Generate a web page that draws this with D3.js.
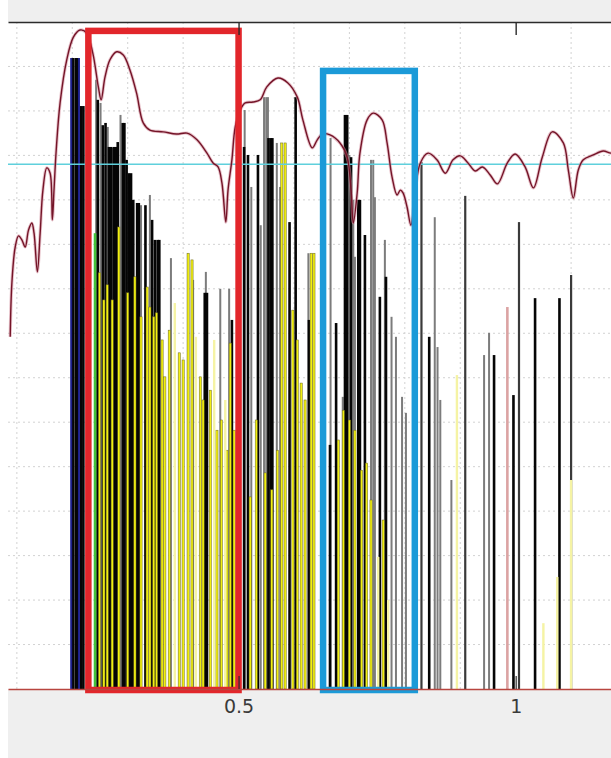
<!DOCTYPE html>
<html>
<head>
<meta charset="utf-8">
<script src="https://cdn.jsdelivr.net/npm/d3@7"></script>
<style>
  html, body { margin: 0; padding: 0; background: #ffffff; }
  svg { display: block; }
</style>
</head>
<body>
<div id="chart"></div>
<script>
// ---- spectral lines: [frequency, magnitude] ----
const navyLines = [[0.198, 14.19], [0.212, 14.19]];
const greenLines = [[0.241, 10.25]];
const pinkLines = [[0.985, 8.59]];

const grayLines = [
  [0.243, 13.70], [0.251, 13.18], [0.264, 12.64], [0.273, 12.17], [0.287, 12.91],
  [0.324, 10.88], [0.340, 11.11], [0.378, 9.69], [0.418, 9.20], [0.441, 9.38],
  [0.467, 9.00], [0.483, 9.00], [0.511, 13.02], [0.523, 11.29], [0.540, 10.43],
  [0.546, 13.31], [0.550, 13.31], [0.553, 13.31], [0.569, 12.28], [0.575, 11.29],
  [0.626, 9.80], [0.666, 12.39], [0.688, 6.57], [0.700, 12.01], [0.707, 11.00],
  [0.710, 9.72], [0.739, 11.90], [0.743, 11.90], [0.746, 11.06], [0.764, 10.10],
  [0.776, 8.37], [0.784, 7.92], [0.795, 6.57], [0.802, 6.21], [0.854, 10.61],
  [0.859, 7.69], [0.864, 6.50], [0.884, 4.70], [0.943, 7.51], [0.952, 8.01]
];

const darkGrayLines = [[0.830, 11.85], [0.909, 11.09], [1.006, 10.50], [1.100, 9.31]];

const blackLines = [
  [0.201, 14.19], [0.206, 14.19], [0.209, 14.19], [0.216, 13.11], [0.220, 13.11],
  [0.246, 13.25], [0.255, 12.68], [0.260, 12.73], [0.266, 12.19], [0.270, 12.19],
  [0.275, 12.19], [0.279, 12.19], [0.282, 12.30], [0.291, 12.73], [0.294, 12.73],
  [0.298, 11.90], [0.302, 11.60], [0.306, 11.60], [0.310, 11.00], [0.317, 10.93],
  [0.320, 10.93], [0.332, 10.88], [0.344, 10.55], [0.349, 10.10], [0.354, 10.10],
  [0.357, 10.10], [0.439, 8.91], [0.443, 8.91], [0.488, 8.30], [0.510, 12.19],
  [0.517, 12.01], [0.535, 12.01], [0.554, 12.39], [0.558, 12.39], [0.561, 12.39],
  [0.592, 10.50], [0.603, 13.31], [0.627, 8.30], [0.665, 5.49], [0.676, 8.23],
  [0.692, 12.91], [0.696, 12.91], [0.703, 11.96], [0.716, 11.00], [0.719, 11.00],
  [0.728, 10.21], [0.755, 8.82], [0.766, 9.27], [0.844, 7.92], [0.961, 7.51],
  [0.996, 6.61], [1.035, 8.79], [1.079, 8.79]
];

const yellowLines = [
  [0.249, 9.36], [0.257, 8.75], [0.263, 9.09], [0.272, 8.75], [0.284, 10.39],
  [0.300, 8.91], [0.313, 9.27], [0.324, 8.37], [0.335, 9.04], [0.340, 8.59],
  [0.347, 8.37], [0.352, 8.46], [0.362, 7.85], [0.367, 7.02], [0.375, 8.07],
  [0.393, 7.56], [0.400, 7.40], [0.409, 9.80], [0.416, 9.65], [0.431, 7.02],
  [0.436, 6.50], [0.449, 6.72], [0.461, 5.82], [0.469, 6.05], [0.479, 5.37],
  [0.485, 7.78], [0.492, 5.82], [0.521, 4.32], [0.532, 6.05], [0.548, 4.86],
  [0.560, 4.48], [0.570, 5.37], [0.578, 12.28], [0.584, 12.28], [0.598, 8.52],
  [0.606, 7.85], [0.613, 6.88], [0.620, 6.50], [0.631, 9.80], [0.636, 9.80],
  [0.680, 5.60], [0.689, 6.27], [0.700, 6.05], [0.710, 5.82], [0.722, 4.92],
  [0.731, 5.08], [0.739, 4.25], [0.761, 3.80]
];

const paleYellowLines = [
  [0.385, 8.68], [0.423, 7.92], [0.456, 7.85], [0.476, 6.50], [0.752, 2.97],
  [0.770, 2.00], [0.894, 7.06], [1.050, 1.48], [1.075, 2.52], [1.100, 4.70]
];

// ---- envelope curve ----
const envFreq = [
  0.088, 0.091, 0.097, 0.103, 0.109, 0.115, 0.121, 0.127, 0.131, 0.137,
  0.142, 0.147, 0.154, 0.160, 0.164, 0.167, 0.171, 0.178, 0.190, 0.202,
  0.214, 0.226, 0.237, 0.247, 0.252, 0.259, 0.268, 0.280, 0.292, 0.304,
  0.316, 0.328, 0.340, 0.364, 0.388, 0.407, 0.425, 0.443, 0.454, 0.463,
  0.470, 0.477, 0.481, 0.488, 0.494, 0.503, 0.512, 0.526, 0.539, 0.551,
  0.571, 0.589, 0.606, 0.616, 0.633, 0.642, 0.651, 0.665, 0.683, 0.696,
  0.703, 0.707, 0.714, 0.719, 0.732, 0.743, 0.759, 0.768, 0.777, 0.786,
  0.792, 0.797, 0.804, 0.811, 0.819, 0.828, 0.842, 0.858, 0.873, 0.887,
  0.900, 0.914, 0.927, 0.940, 0.954, 0.967, 0.985, 0.999, 1.017, 1.032,
  1.048, 1.066, 1.086, 1.095, 1.104, 1.113, 1.122, 1.140, 1.158, 1.172, 1.189
];
const envLevel = [
  7.92, 9.13, 9.94, 10.19, 10.10, 9.94, 10.32, 10.48, 10.25, 9.38,
  10.25, 11.22, 11.72, 11.60, 10.55, 11.22, 12.12, 13.18, 14.15, 14.66,
  14.82, 14.75, 14.30, 13.54, 13.25, 13.76, 14.15, 14.33, 14.26, 13.92,
  13.40, 12.73, 12.57, 12.53, 12.48, 12.50, 12.35, 12.05, 11.83, 11.74,
  11.38, 10.50, 11.22, 11.90, 12.64, 13.02, 13.18, 13.20, 13.25, 13.54,
  13.74, 13.63, 13.31, 12.80, 12.17, 12.35, 12.48, 12.46, 12.28, 11.96,
  11.22, 10.48, 11.15, 12.05, 12.80, 12.95, 12.80, 12.28, 11.51, 11.11,
  11.22, 11.15, 10.84, 10.43, 11.22, 11.83, 12.05, 11.90, 11.60, 11.90,
  11.99, 11.83, 11.65, 11.74, 11.56, 11.36, 11.83, 12.03, 11.74, 11.27,
  11.96, 12.53, 12.28, 11.67, 11.04, 11.67, 11.90, 12.01, 12.10, 12.05, 12.07
];

const threshold = 11.8;
// highlighted bands: [from, to, top]
const bandRed = [0.229, 0.500, 14.8];
const bandBlue = [0.6525, 0.818, 13.9];

const xTicks = [0.5, 1];
const xGrid = [0.1, 0.2, 0.3, 0.4, 0.6, 0.7, 0.8, 0.9, 1.1];
const yGrid = d3.range(1, 15);

// ---- layout ----
const W = 611, H = 758;
const plotL = 8, plotR = 611, plotT = 22, plotB = 689;

const x = d3.scaleLinear().domain([0.084, 1.172]).range([plotL, plotR]);
const y = d3.scaleLinear().domain([0, 15]).range([plotB, plotT]);

const svg = d3.select('#chart').append('svg')
  .attr('width', W).attr('height', H)
  .attr('viewBox', `0 0 ${W} ${H}`);

svg.append('rect').attr('width', W).attr('height', H).attr('fill', '#ffffff');

// figure bands above and below the axes
svg.append('rect').attr('x', plotL).attr('y', 0).attr('width', W - plotL).attr('height', plotT).attr('fill', '#efefef');
svg.append('rect').attr('x', plotL).attr('y', plotB).attr('width', W - plotL).attr('height', H - plotB).attr('fill', '#efefef');

svg.append('defs').append('clipPath').attr('id', 'plotClip')
  .append('rect').attr('x', plotL).attr('y', plotT).attr('width', plotR - plotL).attr('height', plotB - plotT);

const plot = svg.append('g').attr('clip-path', 'url(#plotClip)');

// grid
plot.append('g').selectAll('line').data(xGrid).join('line')
  .attr('x1', d => x(d)).attr('x2', d => x(d))
  .attr('y1', plotT).attr('y2', plotB)
  .attr('stroke', '#d2d2d2').attr('stroke-width', 1).attr('stroke-dasharray', '2,3');
plot.append('g').selectAll('line').data(yGrid).join('line')
  .attr('x1', plotL).attr('x2', plotR)
  .attr('y1', d => y(d)).attr('y2', d => y(d))
  .attr('stroke', '#d2d2d2').attr('stroke-width', 1).attr('stroke-dasharray', '2,3');

function drawLines(data, width, fill, stroke, strokeW) {
  const g = plot.append('g');
  g.selectAll('rect').data(data).join('rect')
    .attr('x', d => x(d[0]) - width / 2)
    .attr('y', d => y(d[1]))
    .attr('width', width)
    .attr('height', d => y(0) - y(d[1]))
    .attr('fill', fill)
    .attr('stroke', stroke || 'none')
    .attr('stroke-width', strokeW || 0);
  return g;
}

drawLines(grayLines, 2, '#7c7c7c');
drawLines(darkGrayLines, 2.2, '#3a3a3a');
drawLines(blackLines, 2.6, '#050505');
drawLines(navyLines, 2, '#1b1f8c');
drawLines(greenLines, 2.6, '#44c23a');
drawLines(pinkLines, 2.6, '#dba3a3');
drawLines(yellowLines, 2.2, '#f1ef12', '#6a6620', 0.5);
drawLines(paleYellowLines, 2.4, '#f5f3a4');

// threshold line
plot.append('line')
  .attr('x1', plotL).attr('x2', plotR)
  .attr('y1', y(threshold)).attr('y2', y(threshold))
  .attr('stroke', '#5fd0dc').attr('stroke-width', 1.6);

// envelope
const envelope = envFreq.map((f, i) => [f, envLevel[i]]);
const envLine = d3.line().x(d => x(d[0])).y(d => y(d[1])).curve(d3.curveCatmullRom.alpha(0.5));
plot.append('path').datum(envelope).attr('d', envLine)
  .attr('fill', 'none').attr('stroke', '#d4909e').attr('stroke-width', 3.2).attr('stroke-opacity', 0.55);
plot.append('path').datum(envelope).attr('d', envLine)
  .attr('fill', 'none').attr('stroke', '#741428').attr('stroke-width', 1.4);

// highlighted bands
function band(b, color) {
  svg.append('rect')
    .attr('x', x(b[0])).attr('y', y(b[2]))
    .attr('width', x(b[1]) - x(b[0]))
    .attr('height', y(0) - y(b[2]) + 1)
    .attr('fill', 'none').attr('stroke', color).attr('stroke-width', 6.5);
}
band(bandRed, '#e2262b');
band(bandBlue, '#1b9ad8');

// axes
const axisTopG = svg.append('g').attr('transform', `translate(0,${plotT})`)
  .call(d3.axisTop(x).tickValues(xTicks).tickSizeInner(-13).tickSizeOuter(0).tickFormat(''));
axisTopG.select('.domain').attr('stroke', '#2b2b2b').attr('stroke-width', 1.4);
axisTopG.selectAll('.tick line').attr('stroke', '#2b2b2b').attr('stroke-width', 1.4);

const axisBottomG = svg.append('g').attr('transform', `translate(0,${plotB})`)
  .call(d3.axisBottom(x).tickValues(xTicks).tickSizeInner(-13).tickSizeOuter(0).tickPadding(11)
    .tickFormat(d3.format('')));
axisBottomG.select('.domain').attr('stroke', '#b8453f').attr('stroke-width', 1.4);
axisBottomG.selectAll('.tick line').attr('stroke', '#2b2b2b').attr('stroke-width', 1.2);
axisBottomG.selectAll('.tick text')
  .attr('fill', '#3a3a3a')
  .style('font-family', '"DejaVu Sans", sans-serif')
  .style('font-size', '19px');
</script>
</body>
</html>
